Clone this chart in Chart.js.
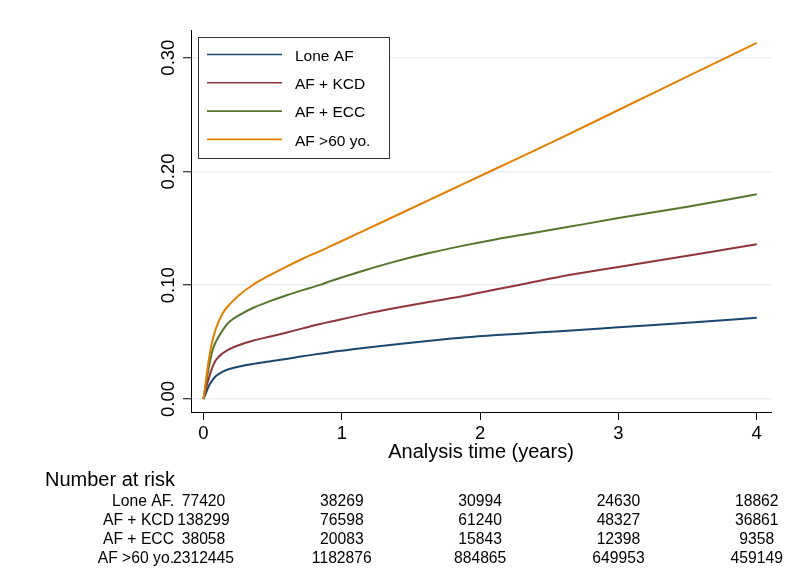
<!DOCTYPE html>
<html><head><meta charset="utf-8">
<script src="https://cdn.jsdelivr.net/npm/chart.js@4.4.1/dist/chart.umd.min.js"></script>
<style>html,body{margin:0;padding:0;background:#fff;} canvas{display:block;}</style>
</head><body>
<canvas id="c" width="797" height="583"></canvas>
<script>
// ---- data ----
const times  = [0, 0.018, 0.042, 0.066, 0.09, 0.139, 0.187, 0.259, 0.356, 0.476, 0.597, 0.717, 0.842, 0.915, 1.156, 1.397, 1.638, 1.879, 2.12, 2.361, 2.578, 3.0, 3.5, 4.0];
const loneAF = [0, 0.0055, 0.0123, 0.0167, 0.0202, 0.024, 0.0264, 0.0286, 0.0308, 0.0330, 0.0352, 0.0376, 0.0398, 0.0411, 0.0448, 0.0482, 0.0512, 0.054, 0.0562, 0.058, 0.0596, 0.063, 0.067, 0.0714];
const afKCD  = [0, 0.0094, 0.0196, 0.0284, 0.0343, 0.0402, 0.0439, 0.0475, 0.0512, 0.0547, 0.0583, 0.0621, 0.0659, 0.0679, 0.0744, 0.0802, 0.0855, 0.0905, 0.0964, 0.1022, 0.1075, 0.116, 0.126, 0.136];
const afECC  = [0, 0.0138, 0.0299, 0.0431, 0.0504, 0.0606, 0.0679, 0.0738, 0.0800, 0.0858, 0.0910, 0.0957, 0.1003, 0.1035, 0.1128, 0.1212, 0.1285, 0.1348, 0.1405, 0.1455, 0.150, 0.159, 0.169, 0.180];
const af60   = [0, 0.0167, 0.0372, 0.0518, 0.0621, 0.0753, 0.0830, 0.0915, 0.1002, 0.1086, 0.1162, 0.1233, 0.1300, 0.1341, 0.1477, 0.1615, 0.1753, 0.189, 0.2028, 0.2166, 0.229, 0.254, 0.2835, 0.313];

const seriesLabels = ['Lone AF', 'AF + KCD', 'AF + ECC', 'AF >60 yo.'];
const seriesColors = ['#1a476f', '#90353b', '#55752f', '#e37e00'];

const xTicks = [0, 1, 2, 3, 4];
const yTicks = [0, 0.1, 0.2, 0.3];

const riskTimes  = [0, 1, 2, 3, 4];
const riskLabels = ['Lone AF.', 'AF + KCD', 'AF + ECC', 'AF >60 yo.'];
const riskLone   = [77420, 38269, 30994, 24630, 18862];
const riskKCD    = [138299, 76598, 61240, 48327, 36861];
const riskECC    = [38058, 20083, 15843, 12398, 9358];
const risk60     = [2312445, 1182876, 884865, 649953, 459149];

// ---- chart ----
const FONT = "'Liberation Sans', Arial, Helvetica, sans-serif";
Chart.defaults.font.family = FONT;
Chart.defaults.color = '#000';

const seriesValues = [loneAF, afKCD, afECC, af60];
const datasets = seriesValues.map((vals, i) => ({
  label: seriesLabels[i],
  data: times.map((t, k) => ({x: t, y: vals[k]})),
  borderColor: seriesColors[i],
  backgroundColor: seriesColors[i],
  borderWidth: 2,
  pointRadius: 0,
  fill: false,
  tension: 0,
  cubicInterpolationMode: 'monotone',
  order: seriesValues.length - i
}));

const overlay = {
  id: 'overlay',
  afterDraw(chart) {
    const ctx = chart.ctx, area = chart.chartArea, xs = chart.scales.x;
    ctx.save();
    // legend box
    const bx = area.left + 7.5, by = area.top + 7.5, bw = 191, bh = 121;
    ctx.fillStyle = '#fff';
    ctx.fillRect(bx, by, bw, bh);
    ctx.strokeStyle = '#333';
    ctx.lineWidth = 1;
    ctx.strokeRect(bx, by, bw, bh);
    chart.data.datasets.forEach((ds, i) => {
      const y = by + 17 + i * 28.3;
      ctx.strokeStyle = ds.borderColor;
      ctx.lineWidth = 1.6;
      ctx.beginPath();
      ctx.moveTo(bx + 8.5, y);
      ctx.lineTo(bx + 83.5, y);
      ctx.stroke();
      ctx.fillStyle = '#000';
      ctx.font = '15.5px ' + FONT;
      ctx.textAlign = 'left';
      ctx.textBaseline = 'alphabetic';
      ctx.fillText(ds.label, bx + 96.5, y + 6.3);
    });
    // number-at-risk table
    ctx.fillStyle = '#000';
    ctx.textBaseline = 'alphabetic';
    ctx.font = '20px ' + FONT;
    ctx.textAlign = 'left';
    ctx.fillText('Number at risk', 45, area.bottom + 74);
    const rows = [riskLone, riskKCD, riskECC, risk60];
    ctx.font = '15.7px ' + FONT;
    rows.forEach((row, r) => {
      const y = area.bottom + 94 + r * 19;
      ctx.textAlign = 'center';
      row.forEach((n, c) => {
        ctx.fillText(String(n), xs.getPixelForValue(riskTimes[c]), y);
      });
      ctx.textAlign = 'right';
      ctx.fillText(riskLabels[r], 174, y);
    });
    ctx.restore();
  }
};

new Chart(document.getElementById('c'), {
  type: 'line',
  data: { datasets },
  plugins: [overlay],
  options: {
    responsive: false,
    animation: false,
    devicePixelRatio: 1,
    layout: { padding: { left: 0, right: 26, top: 30, bottom: 0 } },
    plugins: { legend: { display: false }, tooltip: { enabled: false } },
    scales: {
      x: {
        type: 'linear',
        min: -0.0904,
        max: 4.103,
        afterBuildTicks: s => { s.ticks = xTicks.map(v => ({value: v})); },
        afterFit: s => { s.height = 171; },
        border: { display: true, color: '#000', width: 1 },
        grid: { drawOnChartArea: false, drawTicks: true, tickLength: 8, tickColor: '#000', tickWidth: 1 },
        ticks: { font: { size: 18.5 }, padding: 3, color: '#000', maxRotation: 0, minRotation: 0, callback: v => String(v) },
        title: { display: true, text: 'Analysis time (years)', font: { size: 20 }, color: '#000', padding: { top: 0, bottom: 119 } }
      },
      y: {
        type: 'linear',
        min: -0.0114,
        max: 0.3243,
        afterBuildTicks: s => { s.ticks = yTicks.map(v => ({value: v})); },
        afterFit: s => { s.width = 191; },
        border: { display: true, color: '#000', width: 1 },
        grid: { color: '#e9f0f2', lineWidth: 1.5, drawTicks: true, tickLength: 8, tickColor: '#000', tickWidth: 1 },
        ticks: { font: { size: 18.5 }, padding: -4, color: '#000', minRotation: 90, maxRotation: 90, crossAlign: 'center', callback: v => v.toFixed(2) }
      }
    }
  }
});
</script>
</body></html>
